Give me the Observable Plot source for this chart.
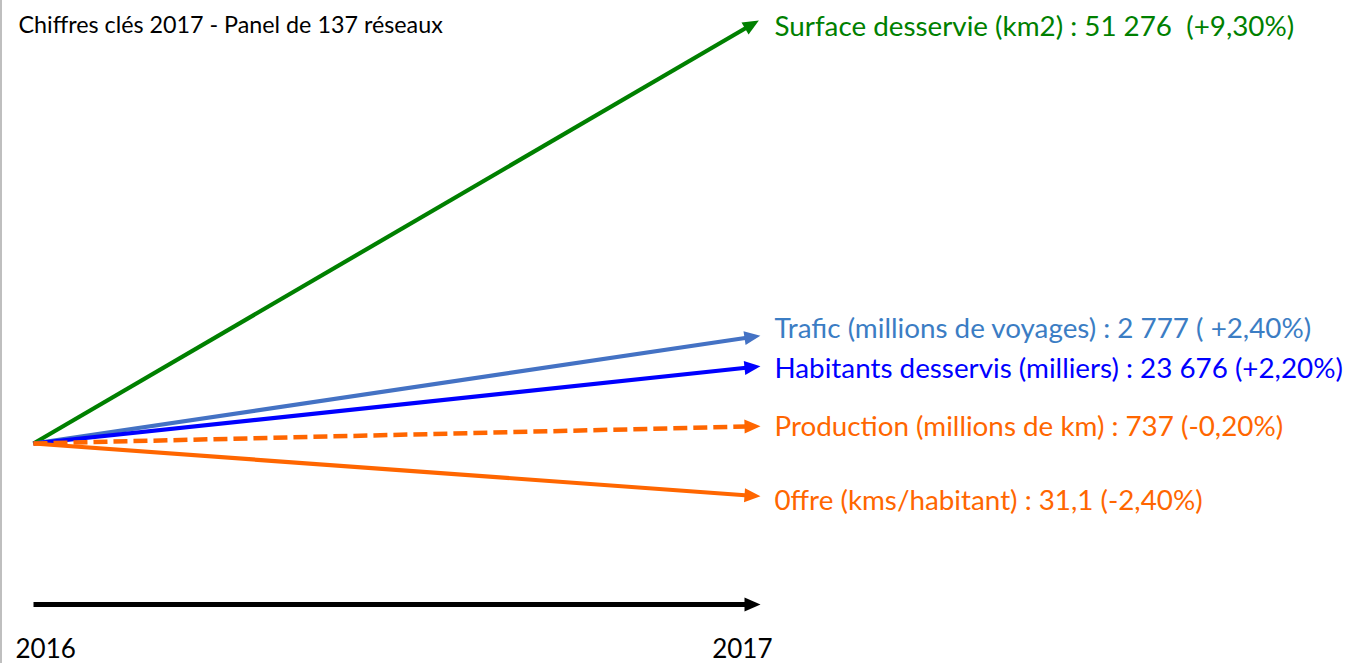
<!DOCTYPE html>
<html>
<head>
<meta charset="utf-8">
<script src="https://cdn.jsdelivr.net/npm/d3@7"></script>
<script src="https://cdn.jsdelivr.net/npm/@observablehq/plot@0.6"></script>
<style>
  html, body { margin: 0; padding: 0; background: #fff; }
  #wrap { position: relative; width: 1351px; height: 663px; overflow: hidden; }
  #edge { position: absolute; left: 0; top: 0; width: 2px; height: 663px; background: #bfbfbf; }
  svg { display: block; }
</style>
</head>
<body>
<div id="wrap"><div id="edge"></div></div>
<script>
// ---- data ----
const title = "Chiffres clés 2017 - Panel de 137 réseaux";
const years = [2016, 2017];
const indicators = ["Surface desservie (km2)", "Trafic (millions de voyages)", "Habitants desservis (milliers)", "Production (millions de km)", "0ffre (kms/habitant)"];
const values2017 = ["51 276 ", "2 777", "23 676", "737", "31,1"];
const changes = ["+9,30%", " +2,40%", "+2,20%", "-0,20%", "-2,40%"];
// schematic end level of each arrow as drawn (origin = 0)
const levels = [417, 106, 76, 17, -52];
const labelLevels = [416, 114, 74, 16, -58];
const lineColors = ["#008000", "#4472C4", "#0000FF", "#FF6600", "#FF6600"];
const textColors = ["#008000", "#3B7DC4", "#0000FF", "#FF6600", "#FF6600"];
const dashed = [false, false, false, true, false];
const axisLevel = -161;
const tickLevel = -206;
const titleLevel = 418;

const rows = indicators.map((name, i) => ({
  name,
  label: `${name} : ${values2017[i]} (${changes[i]})`,
  level: levels[i],
  labelLevel: labelLevels[i],
  color: lineColors[i],
  textColor: textColors[i],
  dashed: dashed[i]
}));

function headMarker(color, context) {
  const doc = (context && context.document) || document;
  const ns = "http://www.w3.org/2000/svg";
  const m = doc.createElementNS(ns, "marker");
  m.setAttribute("viewBox", "-6 -9 20 18");
  m.setAttribute("markerWidth", "20");
  m.setAttribute("markerHeight", "18");
  m.setAttribute("markerUnits", "userSpaceOnUse");
  m.setAttribute("refX", "0");
  m.setAttribute("refY", "0");
  m.setAttribute("orient", "auto");
  const p = doc.createElementNS(ns, "path");
  p.setAttribute("d", "M-4,-7L12,0L-4,7Z");
  p.setAttribute("fill", color);
  p.setAttribute("stroke", "none");
  m.appendChild(p);
  return m;
}

const font = "Lato, 'Open Sans', sans-serif";

const solid = rows.filter(d => !d.dashed);
const dash = rows.filter(d => d.dashed);

const chart = Plot.plot({
  width: 1351,
  height: 663,
  margin: 0,
  x: {domain: [2016, 2017], range: [33, 748], axis: null},
  y: {domain: [443, -220], range: [0, 663], axis: null},
  style: {fontFamily: font, background: "#fff"},
  marks: [
    Plot.link(solid, {x1: years[0], y1: 0, x2: years[1], y2: "level", stroke: "color", strokeWidth: 4.2, markerEnd: headMarker}),
    Plot.link(dash, {x1: years[0], y1: 0, x2: years[1], y2: "level", stroke: "color", strokeWidth: 4.5, strokeDasharray: "14,6", markerEnd: headMarker}),
    Plot.link([{}], {x1: years[0], y1: axisLevel, x2: years[1], y2: axisLevel, stroke: "#000", strokeWidth: 5, markerEnd: headMarker}),
    Plot.text(rows, {x: years[1], y: "labelLevel", text: "label", fill: "textColor", textAnchor: "start", dx: 26, fontSize: 27.8}),
    Plot.text([title], {x: years[0], y: titleLevel, text: d => d, textAnchor: "start", fill: "#000", fontSize: 23.3, dx: -15}),
    Plot.text([years[0]], {x: d => d, y: tickLevel, text: d => String(d), textAnchor: "start", dx: -18, fontSize: 26, fill: "#000"}),
    Plot.text([years[1]], {x: d => d, y: tickLevel, text: d => String(d), textAnchor: "end", dx: 24, fontSize: 26, fill: "#000"})
  ]
});
document.getElementById("wrap").appendChild(chart);
</script>
</body>
</html>
